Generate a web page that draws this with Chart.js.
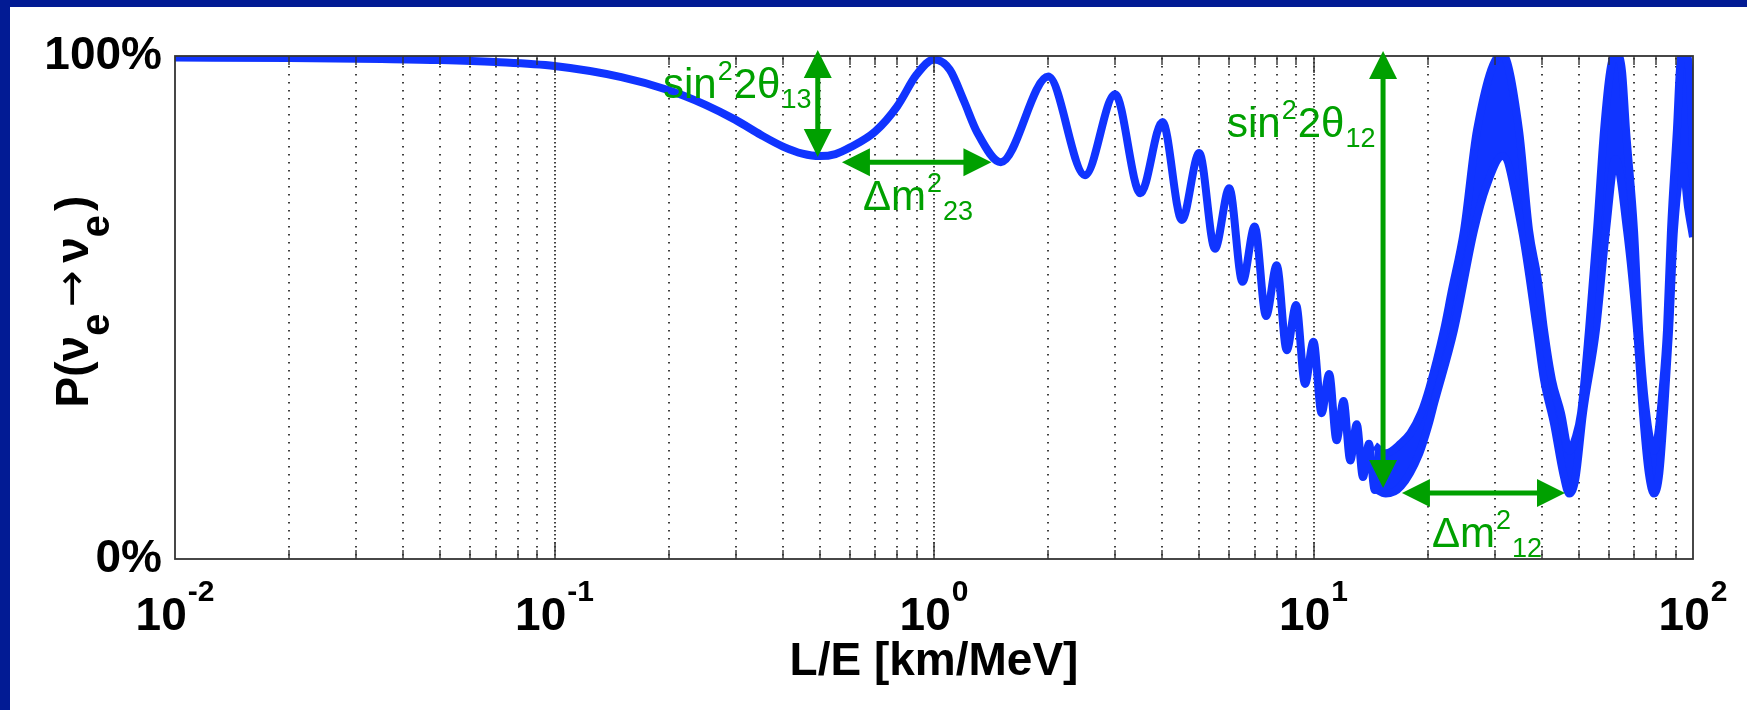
<!DOCTYPE html>
<html>
<head>
<meta charset="utf-8">
<title>Electron neutrino survival probability</title>
<script src="https://cdn.jsdelivr.net/npm/chart.js@4.4.1/dist/chart.umd.min.js"></script>
<style>
  html, body { margin: 0; padding: 0; background: #fff; }
  #wrap { width: 1747px; height: 710px; }
</style>
</head>
<body>
<div id="wrap"><canvas id="survivalChart" width="1747" height="710"></canvas></div>
<script>
// L/E in km/MeV, P in %
const lineX = [0.01, 0.02, 0.035, 0.05, 0.07, 0.1, 0.15, 0.2, 0.25, 0.3, 0.35, 0.4, 0.45, 0.5, 0.55,
  0.6, 0.7, 0.8, 0.9, 1.0, 1.1, 1.2, 1.3, 1.5, 2.0, 2.5, 3, 3.5, 4, 4.5, 5, 5.5, 6, 6.5, 7, 7.5,
  8, 8.5, 9, 9.5, 10, 10.5, 11, 11.5, 12, 12.5, 13, 13.5, 14, 14.5, 15]
const lineP = [99.7, 99.6, 99.4, 99.2, 98.8, 98.0, 95.8, 93.2, 90.3, 87.3, 84.3, 82.0, 80.6, 80.1, 80.5,
  81.8, 85.0, 90.0, 96.3, 99.3, 97.3, 91.0, 84.8, 78.9, 95.9, 76.3, 92.4, 72.7, 86.9, 67.4, 80.7, 61.7,
  73.7, 55.1, 66.1, 48.3, 58.4, 41.5, 50.5, 34.8, 43.2, 29.0, 36.8, 23.6, 31.4, 19.6, 26.8, 16.3, 22.9,
  13.7, 20.8]

// beyond ~15 the fast wiggles merge into a band: upper and lower edges
const upperX = [14.5, 15.5, 17, 18, 19.2, 20.2, 22.07, 23.1, 24.93, 26.97, 31.4, 34.79, 36.97, 39, 40.5,
  42.5, 44.9, 47.2, 49, 50.7, 53.2, 55.85, 58.3, 60.5, 62.7, 65, 66.6, 69.9, 72.1, 75, 79, 81, 83, 85.4,
  87.5, 90.7, 93, 95.5, 97.5, 100]
const upperP = [22.5, 21, 23, 25, 29, 34, 45.5, 53, 65.4, 85.3, 100.5, 85.3, 65.4, 55.5, 45.5,
  35.6, 29, 21.5, 24, 29, 45.5, 65.4, 85.3, 97, 100.5, 97, 85.3, 65.4, 45.5, 30, 21.5, 25, 33, 45.5,
  65.4, 85.3, 99.8, 100.5, 98, 82]
const lowerX = [14.5, 15.5, 17, 19, 20.15, 20.8, 23.45, 26.49, 28.5, 31.5, 35.43, 38.81, 40.5, 43, 45.5,
  47.2, 49, 51.3, 55.5, 59.0, 62.5, 67.0, 71.2, 74, 76.5, 79, 81.5, 84, 86.5, 89.1, 94.1, 97, 100]
const lowerP = [14, 13, 14.5, 21, 27, 31, 45.5, 65.4, 74, 80.1, 65.4, 45.5, 35.6, 27, 17,
  13, 16, 29, 45.5, 65.4, 79.5, 65.4, 45.5, 28, 17, 13, 17, 30, 45.5, 65.4, 78.1, 70, 64]

// axis labels
const xTickValues = [0.01, 0.1, 1, 10, 100]
const xTickExponents = ["-2", "-1", "0", "1", "2"]
const yTickValues = [0, 100]
const xTitle = "L/E [km/MeV]"

// annotations, in data units (L/E, %)
const arrows = [
  { from: [0.494, 101.2], to: [0.494, 79.9] },
  { from: [0.572, 78.9], to: [1.417, 78.9] },
  { from: [15.25, 101.0], to: [15.25, 14.1] },
  { from: [17.1, 13.1], to: [46.0, 13.1] },
]
const notes = [
  { x: 0.1932, y: 91.65, parts: [["sin", 0], ["2", 1], ["2θ", 0], ["13", -1]] },
  { x: 0.6497, y: 69.38, parts: [["Δm", 0], ["2", 1], ["23", -1]] },
  { x: 5.918, y: 83.9, parts: [["sin", 0], ["2", 1], ["2θ", 0], ["12", -1]] },
  { x: 20.53, y: 2.39, parts: [["Δm", 0], ["2", 1], ["12", -1]] },
]

const FAMILY = '"Liberation Sans", Arial, Helvetica, sans-serif'
const BLUE = "#1034ff"
const GREEN = "#00a000"
const FRAME_BLUE = "#021b94"

const toPoints = (xs, ys) => xs.map((x, i) => ({ x: x, y: ys[i] }))

// page background with the dark blue bands on top and left
const backdrop = {
  id: "backdrop",
  beforeDraw(chart) {
    const ctx = chart.ctx
    ctx.save()
    ctx.fillStyle = "#fff"
    ctx.fillRect(0, 0, chart.width, chart.height)
    ctx.fillStyle = FRAME_BLUE
    ctx.fillRect(0, 0, chart.width, 7)
    ctx.fillRect(0, 0, 10, chart.height)
    ctx.restore()
  },
}

// dotted vertical grid at every log tick
const logGrid = {
  id: "logGrid",
  beforeDatasetsDraw(chart) {
    const ctx = chart.ctx
    const xs = chart.scales.x
    const { top, bottom } = chart.chartArea
    ctx.save()
    ctx.strokeStyle = "#111"
    ctx.lineWidth = 1.6
    for (let e = -2; e < 2; e++) {
      for (let m = 1; m <= 9; m++) {
        const v = m * Math.pow(10, e)
        if (v <= xs.min) continue
        const px = Math.round(xs.getPixelForValue(v))
        ctx.setLineDash(m === 1 ? [1.6, 2.4] : [1.6, 6.4])
        ctx.beginPath()
        ctx.moveTo(px, top + 2)
        ctx.lineTo(px, bottom)
        ctx.stroke()
      }
    }
    ctx.restore()
  },
  afterDatasetsDraw(chart) {
    const ctx = chart.ctx
    const xs = chart.scales.x
    const { top, bottom, left, right } = chart.chartArea
    ctx.save()
    ctx.strokeStyle = "#333"
    ctx.lineWidth = 1.4
    ctx.setLineDash([])
    for (let e = -2; e < 2; e++) {
      for (let m = 1; m <= 9; m++) {
        const v = m * Math.pow(10, e)
        if (v <= xs.min) continue
        const px = Math.round(xs.getPixelForValue(v))
        const len = m === 1 ? 17 : 9
        ctx.beginPath()
        ctx.moveTo(px, bottom)
        ctx.lineTo(px, bottom - len)
        ctx.moveTo(px, top)
        ctx.lineTo(px, top + len)
        ctx.stroke()
      }
    }
    ctx.lineWidth = 1.8
    ctx.strokeRect(left, top, right - left, bottom - top)
    ctx.restore()
  },
}

function drawRich(ctx, x, y, parts) {
  let cx = x
  parts.forEach((p) => {
    ctx.font = p.font
    ctx.fillText(p.text, cx, y + p.dy)
    cx += ctx.measureText(p.text).width + (p.gap || 0)
  })
}

function richWidth(ctx, parts) {
  let w = 0
  parts.forEach((p) => {
    ctx.font = p.font
    w += ctx.measureText(p.text).width + (p.gap || 0)
  })
  return w
}

// power-of-ten tick labels, y axis title and green annotations
const decorations = {
  id: "decorations",
  afterDraw(chart) {
    const ctx = chart.ctx
    const xs = chart.scales.x
    const ys = chart.scales.y
    const area = chart.chartArea
    ctx.save()
    ctx.textAlign = "left"
    ctx.textBaseline = "alphabetic"
    ctx.fillStyle = "#000"

    // 10^n labels
    xTickValues.forEach((v, i) => {
      const parts = [
        { text: "10", font: `bold 46px ${FAMILY}`, dy: 0, gap: 1 },
        { text: xTickExponents[i], font: `bold 30px ${FAMILY}`, dy: -29 },
      ]
      const w = richWidth(ctx, parts)
      drawRich(ctx, xs.getPixelForValue(v) - w / 2, area.bottom + 71, parts)
    })

    // y title, rotated
    const yParts = [
      { text: "P(", font: `bold 46px ${FAMILY}`, dy: 0 },
      { text: "ν", font: `bold 46px ${FAMILY}`, dy: 0 },
      { text: "e", font: `bold 40px ${FAMILY}`, dy: 21, gap: 6 },
      { text: "→", font: `normal 44px "DejaVu Sans", ${FAMILY}`, dy: -2, gap: 8 },
      { text: "ν", font: `bold 46px ${FAMILY}`, dy: 0 },
      { text: "e", font: `bold 40px ${FAMILY}`, dy: 21, gap: 4 },
      { text: ")", font: `bold 46px ${FAMILY}`, dy: 0 },
    ]
    ctx.save()
    ctx.translate(88, (area.top + area.bottom) / 2 - 6)
    ctx.rotate(-Math.PI / 2)
    drawRich(ctx, -richWidth(ctx, yParts) / 2, 0, yParts)
    ctx.restore()

    // arrows
    ctx.fillStyle = GREEN
    ctx.strokeStyle = GREEN
    ctx.lineWidth = 5
    const HL = 28
    const HW = 14
    const head = (tx, ty, ux, uy) => {
      ctx.beginPath()
      ctx.moveTo(tx, ty)
      ctx.lineTo(tx - ux * HL - uy * HW, ty - uy * HL + ux * HW)
      ctx.lineTo(tx - ux * HL + uy * HW, ty - uy * HL - ux * HW)
      ctx.closePath()
      ctx.fill()
    }
    arrows.forEach((a) => {
      const ax = xs.getPixelForValue(a.from[0])
      const ay = ys.getPixelForValue(a.from[1])
      const bx = xs.getPixelForValue(a.to[0])
      const by = ys.getPixelForValue(a.to[1])
      const len = Math.hypot(bx - ax, by - ay)
      const ux = (bx - ax) / len
      const uy = (by - ay) / len
      ctx.beginPath()
      ctx.moveTo(ax + ux * HL * 0.6, ay + uy * HL * 0.6)
      ctx.lineTo(bx - ux * HL * 0.6, by - uy * HL * 0.6)
      ctx.stroke()
      head(bx, by, ux, uy)
      head(ax, ay, -ux, -uy)
    })

    // labels
    notes.forEach((n) => {
      const parts = n.parts.map(([text, kind]) => ({
        text: text,
        font: kind === 0 ? `normal 42px ${FAMILY}` : `normal 27px ${FAMILY}`,
        dy: kind === 1 ? -18 : kind === -1 ? 10 : 0,
        gap: 1,
      }))
      drawRich(ctx, xs.getPixelForValue(n.x), ys.getPixelForValue(n.y), parts)
    })
    ctx.restore()
  },
}

const ctx = document.getElementById("survivalChart").getContext("2d")

new Chart(ctx, {
  type: "line",
  data: {
    datasets: [
      {
        label: "P(νe → νe)",
        data: toPoints(lineX, lineP),
        borderColor: BLUE,
        borderWidth: 8,
        borderJoinStyle: "round",
        cubicInterpolationMode: "monotone",
        pointRadius: 0,
        fill: false,
        clip: 0,
      },
      {
        label: "upper edge",
        data: toPoints(upperX, upperP),
        borderColor: BLUE,
        borderWidth: 8,
        borderJoinStyle: "round",
        cubicInterpolationMode: "monotone",
        pointRadius: 0,
        fill: false,
        clip: 0,
      },
      {
        label: "lower edge",
        data: toPoints(lowerX, lowerP),
        borderColor: BLUE,
        backgroundColor: BLUE,
        borderWidth: 8,
        borderJoinStyle: "round",
        cubicInterpolationMode: "monotone",
        pointRadius: 0,
        fill: "-1",
        clip: 0,
      },
    ],
  },
  options: {
    responsive: false,
    devicePixelRatio: 1,
    animation: false,
    layout: { padding: { top: 56, right: 54, left: 0, bottom: 0 } },
    plugins: {
      legend: { display: false },
      tooltip: { enabled: false },
    },
    scales: {
      x: {
        type: "logarithmic",
        min: 0.01,
        max: 100,
        ticks: { display: false },
        grid: { display: false, drawTicks: false },
        border: { display: false },
        title: {
          display: true,
          text: xTitle,
          color: "#000",
          font: { family: FAMILY, size: 46, weight: "bold" },
          padding: { top: 0, bottom: 20 },
        },
        afterFit: (scale) => {
          scale.height = 151
        },
      },
      y: {
        min: 0,
        max: 100,
        afterBuildTicks: (scale) => {
          scale.ticks = yTickValues.map((v) => ({ value: v }))
        },
        ticks: {
          padding: 13,
          color: "#000",
          font: { family: FAMILY, size: 46, weight: "bold" },
          callback: (value) => value + "%",
        },
        grid: { display: false, drawTicks: false },
        border: { display: false },
        afterFit: (scale) => {
          scale.width = 175
        },
      },
    },
  },
  plugins: [backdrop, logGrid, decorations],
})
</script>
</body>
</html>
